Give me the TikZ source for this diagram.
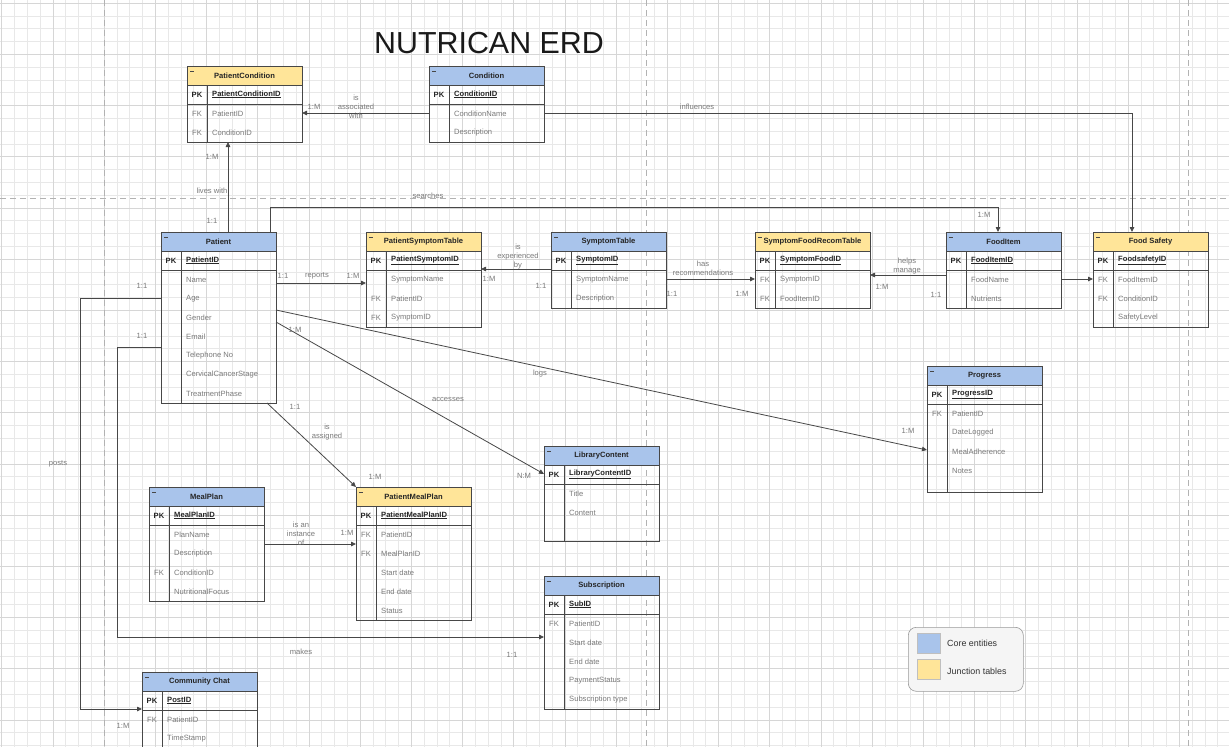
\documentclass[tikz,border=0pt]{standalone}
\usepackage{fontspec}
\setmainfont{Liberation Sans}
\usetikzlibrary{arrows.meta}

\definecolor{coreblue}{HTML}{A9C4EB}
\definecolor{junctionyellow}{HTML}{FFE599}
\definecolor{fieldgray}{HTML}{7A7A7A}
\definecolor{linegray}{HTML}{474747}

\tikzset{
  tablebox/.style={minimum width=115pt, inner sep=0pt, outer sep=0pt, anchor=north west},
  tline/.style={draw=linegray, line width=0.8pt},
  headtext/.style={font=\bfseries\fontsize{7.6}{9}\selectfont, text=black!85, inner sep=1pt},
  keytext/.style={font=\bfseries\fontsize{7.6}{9}\selectfont, text=black!85, inner sep=2pt},
  fieldtext/.style={font=\fontsize{7.6}{9}\selectfont, text=fieldgray, inner sep=2pt},
  lbl/.style={font=\fontsize{7.6}{9}\selectfont, text=fieldgray, align=center, inner sep=1pt},
  legendtext/.style={font=\fontsize{8.9}{10}\selectfont, text=black!80, inner sep=1pt},
  rel/.style={draw=linegray, line width=0.8pt, -{Triangle[length=5pt,width=4.5pt]}},
  gridminor/.style={draw=black!9, line width=0.4pt},
  gridmajor/.style={draw=black!16, line width=0.5pt},
  pagebreak/.style={draw=black!30, line width=0.8pt, dash pattern=on 6pt off 4pt},
}

% entity table: name, left, top, header colour, title, key, body rows, fields
\newcommand{\erdtable}[8]{%
  \node[tablebox, minimum height={38+19*#7}] (#1) at (#2,#3) {};
  \fill[#4] (#2,#3) rectangle ({#2+115},{#3+19});
  \draw[tline] (#2,{#3+19}) -- ++(115,0);
  \draw[tline] (#2,{#3+38}) -- ++(115,0);
  \draw[tline] ({#2+20},{#3+19}) -- ({#2+20},{#3+38+19*#7});
  \draw[tline] (#1.north west) rectangle (#1.south east);
  \draw[linegray, line width=0.7pt] ({#2+3},{#3+5}) -- ++(4,0);
  \node[headtext] (#1-title) at ({#2+57.5},{#3+9.5}) {#5};
  \node[keytext] (#1-pk) at ({#2+10},{#3+28.5}) {PK};
  \node[keytext, anchor=west] (#1-key) at ({#2+23},{#3+28.5}) {\underline{#6}};
  \foreach \k/\f [count=\i] in {#8} {
    \node[fieldtext] (#1-k\i) at ({#2+10},{#3+28.5+19*\i}) {\k};
    \node[fieldtext, anchor=west] (#1-f\i) at ({#2+23},{#3+28.5+19*\i}) {\f};
  }
}

\begin{document}
\begin{tikzpicture}[x=1pt, y=-1pt]
\useasboundingbox (0,0) rectangle (1229,747);
\clip (0,0) rectangle (1229,747);
\fill[white] (0,0) rectangle (1229,747);

% background grid and page breaks
\foreach \gx in {1.6,14.4,...,1229} \draw[gridminor] (\gx,0) -- (\gx,747);
\foreach \gy in {3,15.8,...,747} \draw[gridminor] (0,\gy) -- (1229,\gy);
\foreach \gx in {1.6,52.8,...,1229} \draw[gridmajor] (\gx,0) -- (\gx,747);
\foreach \gy in {3,54.2,...,747} \draw[gridmajor] (0,\gy) -- (1229,\gy);
\draw[pagebreak] (0,198) -- (1229,198);
\foreach \px in {104,646,1188} \draw[pagebreak] (\px,0) -- (\px,747);

\node[font=\fontsize{30.4}{34}\selectfont, text=black!90] (title) at (489,43) {NUTRICAN ERD};

% tables
\erdtable{pc}{187}{66}{junctionyellow}{PatientCondition}{PatientConditionID}{2}{FK/PatientID, FK/ConditionID}
\erdtable{cd}{429}{66}{coreblue}{Condition}{ConditionID}{2}{/ConditionName, /Description}
\erdtable{pt}{161}{232}{coreblue}{Patient}{PatientID}{7}{/Name, /Age, /Gender, /Email, /Telephone No, /CervicalCancerStage, /TreatmentPhase}
\erdtable{pst}{366}{232}{junctionyellow}{PatientSymptomTable}{PatientSymptomID}{3}{/SymptomName, FK/PatientID, FK/SymptomID}
\erdtable{st}{551}{232}{coreblue}{SymptomTable}{SymptomID}{2}{/SymptomName, /Description}
\erdtable{sfr}{755}{232}{junctionyellow}{SymptomFoodRecomTable}{SymptomFoodID}{2}{FK/SymptomID, FK/FoodItemID}
\erdtable{fi}{946}{232}{coreblue}{FoodItem}{FoodItemID}{2}{/FoodName, /Nutrients}
\erdtable{fs}{1093}{232}{junctionyellow}{Food Safety}{FoodsafetyID}{3}{FK/FoodItemID, FK/ConditionID, /SafetyLevel}
\erdtable{pg}{927}{366}{coreblue}{Progress}{ProgressID}{4.65}{FK/PatientID, /DateLogged, /MealAdherence, /Notes}
\erdtable{lc}{544}{446}{coreblue}{LibraryContent}{LibraryContentID}{3}{/Title, /Content}
\erdtable{mp}{149}{487}{coreblue}{MealPlan}{MealPlanID}{4}{/PlanName, /Description, FK/ConditionID, /NutritionalFocus}
\erdtable{pmp}{356}{487}{junctionyellow}{PatientMealPlan}{PatientMealPlanID}{5}{FK/PatientID, FK/MealPlanID, /Start date, /End date, /Status}
\erdtable{sb}{544}{576}{coreblue}{Subscription}{SubID}{5}{FK/PatientID, /Start date, /End date, /PaymentStatus, /Subscription type}
\erdtable{cc}{142}{672}{coreblue}{Community Chat}{PostID}{3}{FK/PatientID, /TimeStamp}

% relationships
\draw[rel] ([yshift=-47pt]cd.north west) -- ([yshift=-47pt]pc.north east);
\draw[rel] ([yshift=-47pt]cd.north east) -| ([xshift=39pt]fs.north west);
\draw[rel] ([xshift=67pt]pt.north west) -- ([xshift=41pt]pc.south west);
\draw[rel] ([xshift=109pt]pt.north west) -- ++(0,-25) -| ([xshift=52pt]fi.north west);
\draw[rel] ([yshift=-51pt]pt.north east) -- ([yshift=-51pt]pst.north west);
\draw[rel] ([yshift=-37pt]st.north west) -- ([yshift=-37pt]pst.north east);
\draw[rel] ([yshift=-47pt]st.north east) -- ([yshift=-47pt]sfr.north west);
\draw[rel] ([yshift=-43pt]fi.north west) -- ([yshift=-43pt]sfr.north east);
\draw[rel] ([yshift=-47pt]fi.north east) -- ([yshift=-47pt]fs.north west);
\draw[rel] ([yshift=-78pt]pt.north east) -- ([yshift=-84pt]pg.north west);
\draw[rel] ([yshift=-90pt]pt.north east) -- ([yshift=-28pt]lc.north west);
\draw[rel] ([xshift=106pt]pt.south west) -- (pmp.north west);
\draw[rel] ([yshift=-57pt]mp.north east) -- ([yshift=-57pt]pmp.north west);
\draw[rel] ([yshift=-115pt]pt.north west) -- ++(-44,0) |- ([yshift=-61pt]sb.north west);
\draw[rel] ([yshift=-66pt]pt.north west) -- ++(-81,0) |- ([yshift=-37pt]cc.north west);

% relationship labels
\node[lbl] (l-assoc-m) at (314,107) {1:M};
\node[lbl] (l-assoc) at (356,107) {is\\associated\\with};
\node[lbl] (l-infl) at (697,107) {influences};
\node[lbl] (l-lives-m) at (212,157) {1:M};
\node[lbl] (l-lives) at (212,191) {lives with};
\node[lbl] (l-lives-1) at (212,221) {1:1};
\node[lbl] (l-search) at (428,196) {searches};
\node[lbl] (l-search-m) at (984,215) {1:M};
\node[lbl] (l-rep-1) at (283,276) {1:1};
\node[lbl] (l-rep) at (317,276) {reports};
\node[lbl] (l-rep-m) at (353,276) {1:M};
\node[lbl] (l-exp) at (518,257) {is\\experienced\\by};
\node[lbl] (l-exp-m) at (489,279) {1:M};
\node[lbl] (l-exp-1) at (541,286) {1:1};
\node[lbl] (l-rec) at (703,268) {has\\recommendations};
\node[lbl] (l-rec-1) at (672,294) {1:1};
\node[lbl] (l-rec-m) at (742,294) {1:M};
\node[lbl] (l-help) at (907,266) {helps\\manage};
\node[lbl] (l-help-m) at (882,287) {1:M};
\node[lbl] (l-help-1) at (936,295) {1:1};
\node[lbl] (l-logs) at (540,374) {logs};
\node[lbl] (l-logs-m) at (908,431) {1:M};
\node[lbl] (l-acc) at (448,399) {accesses};
\node[lbl] (l-acc-m) at (295,330) {1:M};
\node[lbl] (l-acc-n) at (524,476) {N:M};
\node[lbl] (l-asg-1) at (295,407) {1:1};
\node[lbl] (l-asg) at (327,432) {is\\assigned};
\node[lbl] (l-asg-m) at (375,477) {1:M};
\node[lbl] (l-inst) at (301,534) {is an\\instance\\of};
\node[lbl] (l-inst-m) at (347,533) {1:M};
\node[lbl] (l-make) at (301,652) {makes};
\node[lbl] (l-make-1) at (512,655) {1:1};
\node[lbl] (l-post) at (58,464) {posts};
\node[lbl] (l-post-m) at (123,726) {1:M};
\node[lbl] (l-post-1) at (142,286) {1:1};
\node[lbl] (l-make-p) at (142,336) {1:1};

% legend
\node[draw=black!40, fill=black!4, rounded corners=8pt, line width=0.6pt,
      minimum width=115pt, minimum height=64pt, anchor=north west] (legend) at (908,627) {};
\node[draw=black!25, fill=coreblue, minimum width=23pt, minimum height=20pt,
      inner sep=0pt, anchor=north west] (sw-core) at (917,633) {};
\node[draw=black!25, fill=junctionyellow, minimum width=23pt, minimum height=20pt,
      inner sep=0pt, anchor=north west] (sw-junc) at (917,659) {};
\node[legendtext, anchor=west] (lg-core) at (946,643) {Core entities};
\node[legendtext, anchor=west] (lg-junc) at (946,671) {Junction tables};
\end{tikzpicture}
\end{document}
